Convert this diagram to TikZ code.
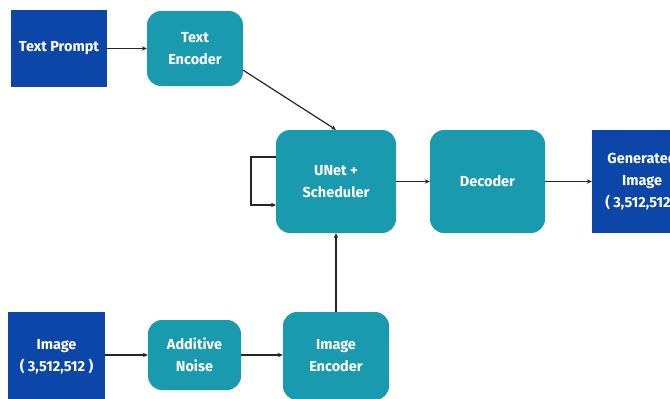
\documentclass[tikz,border=0pt]{standalone}
\usepackage{fontspec}
\setmainfont{Fira Sans}
\usetikzlibrary{arrows.meta}

\definecolor{inblue}{HTML}{0B46A8}
\definecolor{procteal}{HTML}{1A9AAE}

\tikzset{
    iobox/.style={fill=inblue, text=white, font=\bfseries\fontsize{14.5}{22}\selectfont,
        align=center, inner sep=0pt},
    procbox/.style={fill=procteal, text=white, font=\bfseries\fontsize{14.5}{22}\selectfont,
        align=center, inner sep=0pt, rounded corners=14pt},
    flow/.style={-{Stealth[length=5pt,width=4.5pt]}, line width=1.2pt, black!85}
}

\begin{document}
\begin{tikzpicture}[x=1pt,y=-1pt]

    %fix page to the reference size
    \useasboundingbox (0,0) rectangle (670,399);
    \clip (0,0) rectangle (670,399);

    %inputs and output
    \node[iobox, minimum width=96pt, minimum height=77pt] (prompt) at (59,48.5) {Text Prompt};
    \node[iobox, minimum width=97pt, minimum height=90pt] (image) at (56.5,357) {Image\\( 3,512,512 )};
    \node[iobox, minimum width=100pt, minimum height=103pt] (generated) at (642,181.5) {Generated\\Image\\( 3,512,512 )};

    %processing blocks
    \node[procbox, minimum width=96pt, minimum height=75pt] (textenc) at (195,48.5) {Text\\Encoder};
    \node[procbox, minimum width=120pt, minimum height=103pt] (unet) at (336,181.5) {UNet +\\Scheduler};
    \node[procbox, minimum width=115pt, minimum height=103pt] (decoder) at (487.5,181.5) {Decoder};
    \node[procbox, minimum width=93pt, minimum height=70pt] (noise) at (194.5,355) {Additive\\Noise};
    \node[procbox, minimum width=106pt, minimum height=88pt] (imgenc) at (336,356) {Image\\Encoder};

    %text branch
    \draw[flow] (prompt) -- (textenc);
    \draw[flow] (textenc.south east) ++(0,-16) coordinate (tstart) -- (unet.north);

    %image branch
    \draw[flow] (image.east |- noise) -- (noise);
    \draw[flow] (noise) -- (imgenc.west |- noise);
    \draw[flow] (imgenc.north) -- (unet.south);

    %denoising loop
    \coordinate (loopout) at (276,157);
    \coordinate (loopin) at (276,205);
    \draw[flow] (loopout) -- (251,157) -- (251,205) -- (loopin);

    %decoding
    \draw[flow] (unet) -- (decoder);
    \draw[flow] (decoder) -- (generated);

\end{tikzpicture}
\end{document}
